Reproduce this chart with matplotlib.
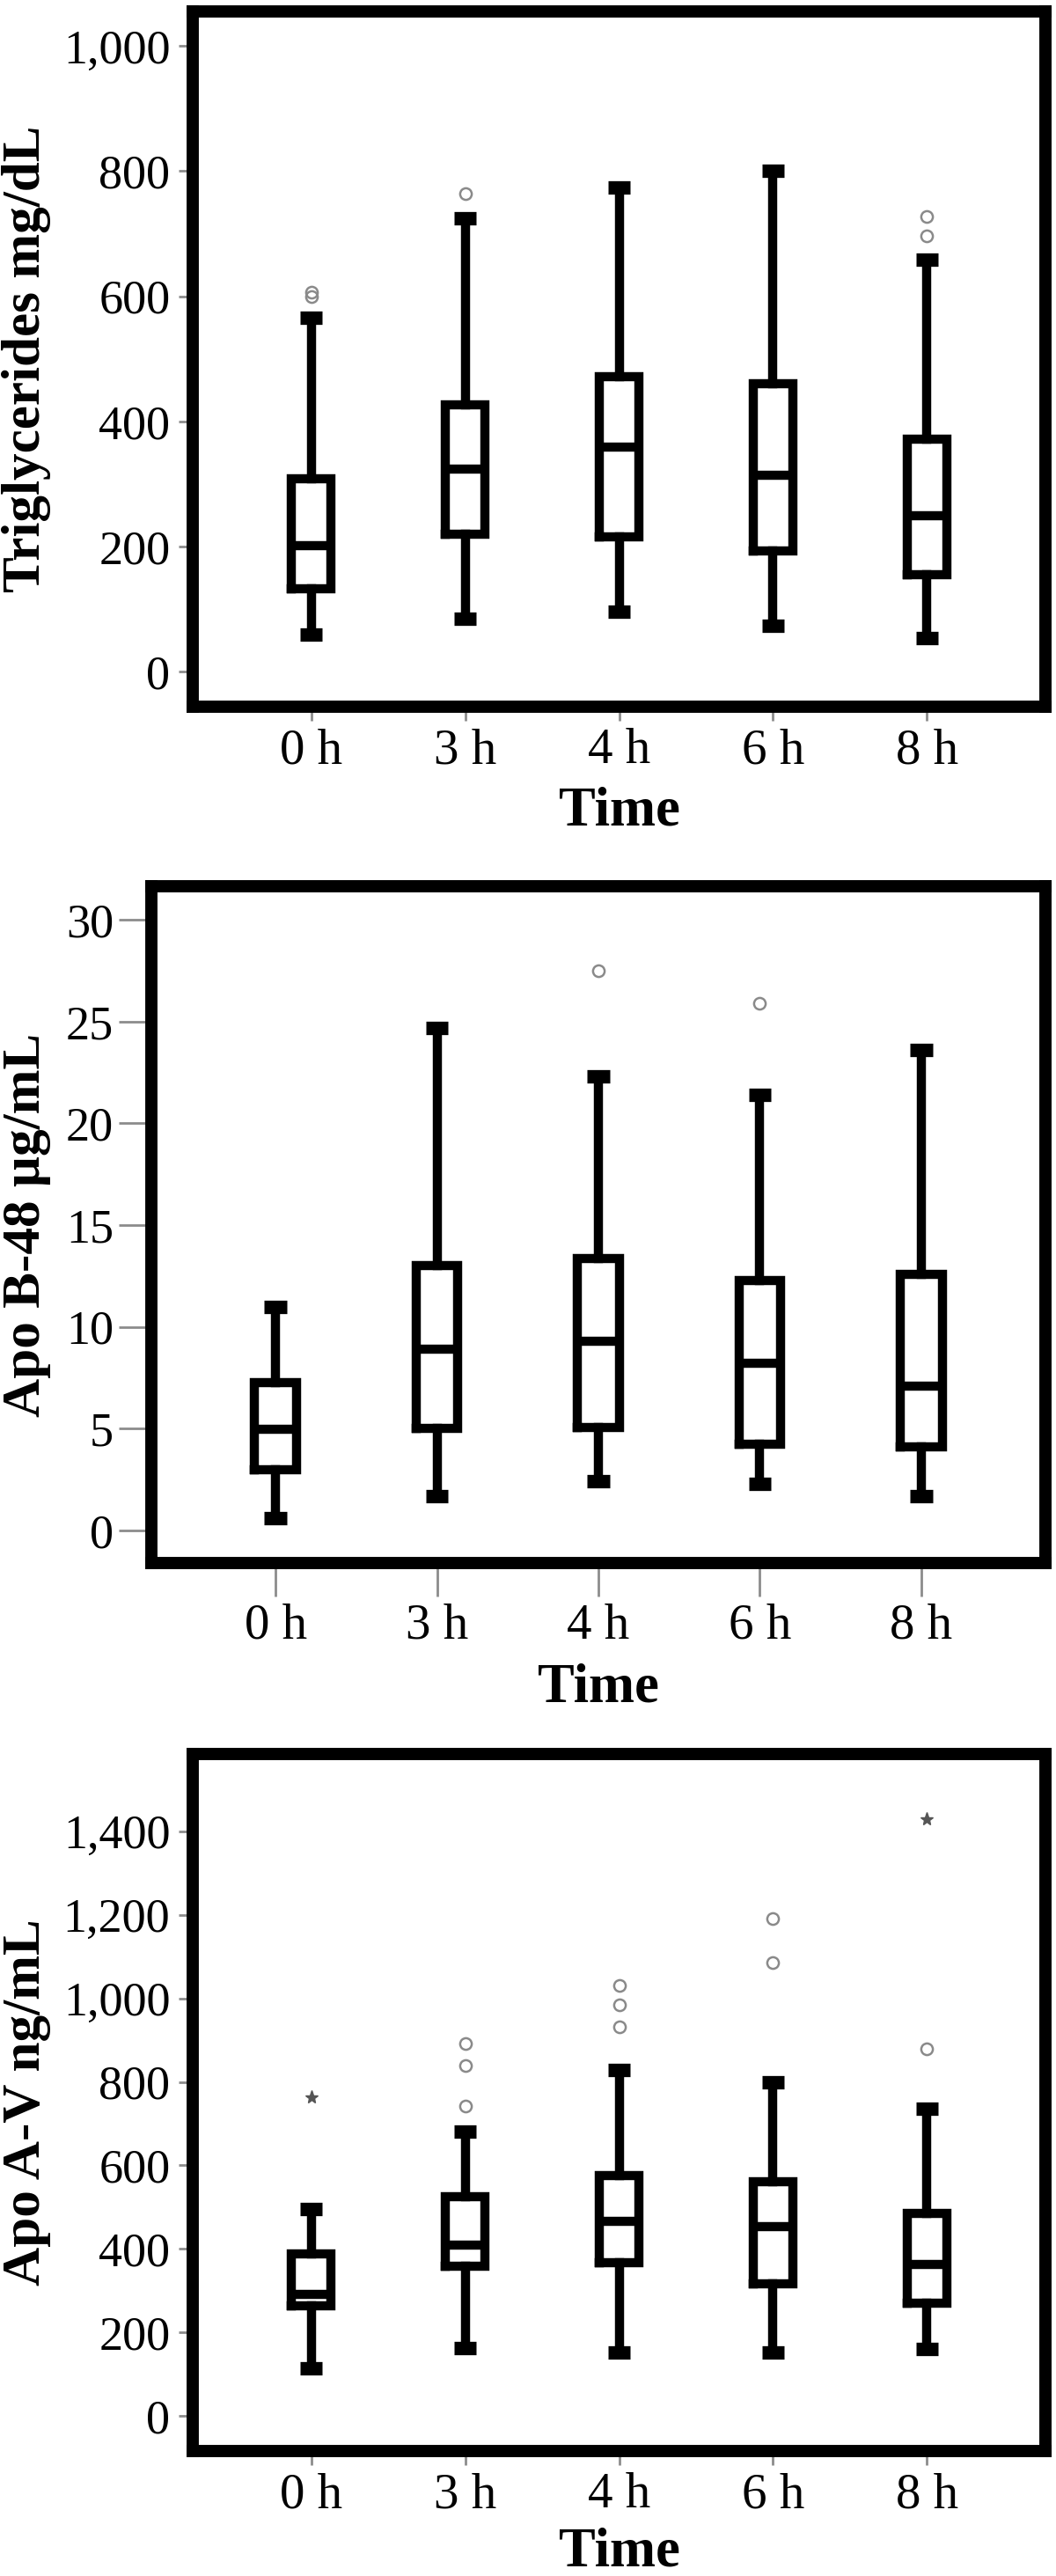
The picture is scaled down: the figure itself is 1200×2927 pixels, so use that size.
import matplotlib as mpl
mpl.use('Agg')
import matplotlib.pyplot as plt
from matplotlib.ticker import FuncFormatter

plt.rcParams['font.family'] = ['Liberation Serif', 'DejaVu Serif']

# categories
times = ['0 h', '3 h', '4 h', '6 h', '8 h']

# Triglycerides mg/dL
tg_low = [60, 84, 96, 73, 53]
tg_q1 = [133, 219, 215, 193, 155]
tg_med = [202, 324, 359, 314, 249]
tg_q3 = [308, 426, 471, 460, 372]
tg_high = [565, 724, 774, 801, 658]
tg_out = [[600, 607], [764], [], [], [696, 727]]
tg_ext = [[], [], [], [], []]

# Apo B-48 ug/mL
b48_low = [0.6, 1.7, 2.4, 2.3, 1.7]
b48_q1 = [2.98, 5.0, 5.05, 4.25, 4.1]
b48_med = [4.97, 8.9, 9.3, 8.2, 7.1]
b48_q3 = [7.26, 13.0, 13.35, 12.3, 12.6]
b48_high = [11.0, 24.7, 22.3, 21.4, 23.6]
b48_out = [[], [], [27.5], [25.9], []]
b48_ext = [[], [], [], [], []]

# Apo A-V ng/mL
av_low = [115, 163, 153, 153, 160]
av_q1 = [264, 359, 367, 316, 271]
av_med = [292, 410, 465, 454, 363]
av_q3 = [388, 526, 576, 560, 485]
av_high = [495, 682, 828, 800, 736]
av_out = [[], [743, 840, 892], [932, 984, 1031], [1085, 1190], [878]]
av_ext = [[763], [], [], [], [1430]]

W, H = 1200, 2927
fig = plt.figure(figsize=(W / 100, H / 100), dpi=100)


def panel(px, ylabel, low, q1, med, q3, high, out, ext, ylim, yticks, comma, long_ticks, xpad):
    left, right, top, bottom = px
    ax = fig.add_axes([left / W, (H - bottom) / H, (right - left) / W, (bottom - top) / H])
    stats = []
    for i in range(len(times)):
        stats.append(dict(whislo=low[i], q1=q1[i], med=med[i], q3=q3[i],
                          whishi=high[i], fliers=out[i]))
    ax.bxp(stats, positions=range(len(times)), widths=0.26, capwidths=0.14,
           boxprops=dict(color='black', lw=7.5, solid_joinstyle='miter'),
           whiskerprops=dict(color='black', lw=7.5),
           capprops=dict(color='black', lw=11, solid_capstyle='butt'),
           medianprops=dict(color='black', lw=7.5, solid_capstyle='butt'),
           flierprops=dict(marker='o', mfc='none', mec='#8a8a8a', ms=9.5, mew=1.8, ls='none'))
    for i, vals in enumerate(ext):
        if vals:
            ax.plot([i] * len(vals), vals, ls='none', marker='*', color='#555555', ms=11)

    ax.set_xlim(-0.77, 4.77)
    ax.set_ylim(*ylim)
    ax.set_yticks(yticks)
    ax.set_xticks(range(len(times)))
    ax.set_xticklabels(times)
    if comma:
        ax.yaxis.set_major_formatter(FuncFormatter(lambda v, _: f'{int(v):,}'))
    for s in ax.spines.values():
        s.set_linewidth(10)
        s.set_color('black')
    tl = 27 if long_ticks else 11.5
    pad_y = 4 if long_ticks else 7
    ax.tick_params(axis='y', length=tl, width=2, color='#8c8c8c', labelsize=39, pad=pad_y)
    ax.tick_params(axis='x', length=tl, width=2, color='#8c8c8c', labelsize=41, pad=6)
    ax.set_xlabel('Time', fontsize=45, fontweight='bold', labelpad=xpad)
    fig.text(30 / W, (H - (top + bottom) / 2) / H, ylabel, rotation=90, ha='center',
             va='center', fontsize=44, fontweight='bold')
    return ax


panel((219, 1188, 13, 803), 'Triglycerides mg/dL', tg_low, tg_q1, tg_med, tg_q3, tg_high,
      tg_out, tg_ext, (-56, 1055), range(0, 1001, 200), True, False, 10)
panel((172, 1188, 1007, 1776), 'Apo B-48 µg/mL', b48_low, b48_q1, b48_med, b48_q3, b48_high,
      b48_out, b48_ext, (-1.6, 31.65), range(0, 31, 5), False, True, 11)
panel((219, 1188, 1993, 2785), 'Apo A-V ng/mL', av_low, av_q1, av_med, av_q3, av_high,
      av_out, av_ext, (-84, 1585), range(0, 1401, 200), True, False, 7)

plt.savefig('out.png', dpi=100)
plt.close()
